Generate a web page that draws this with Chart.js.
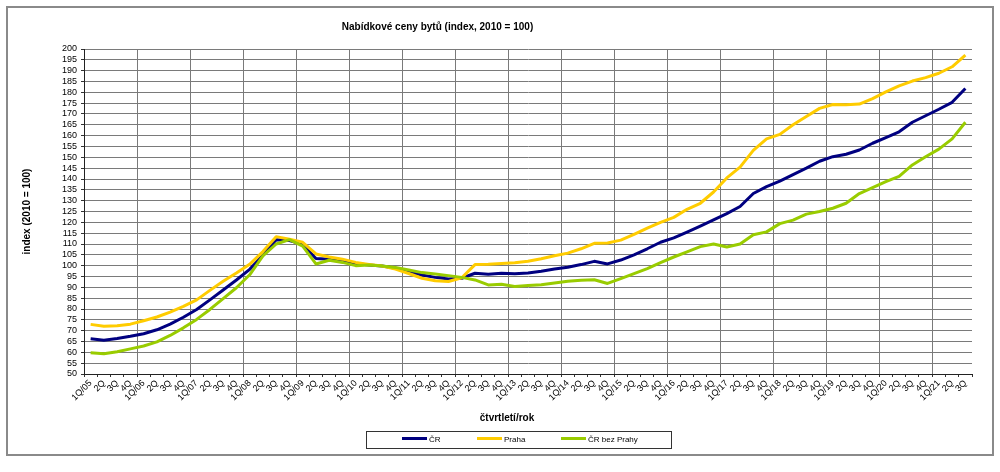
<!DOCTYPE html>
<html>
<head>
<meta charset="utf-8">
<title>Nabídkové ceny bytů</title>
<script src="https://cdn.jsdelivr.net/npm/chart.js@4.4.1/dist/chart.umd.min.js"></script>
<style>
  body { margin: 0; background: #fff; font-family: "Liberation Sans", Arial, sans-serif; }
  #wrap { position: relative; width: 1000px; height: 472px; }
  #wrap canvas { position: absolute; left: 0; top: 0; }
  #frame { position: absolute; left: 6px; top: 6px; width: 984px; height: 446px; border: 2px solid #8a8a8a; pointer-events: none; }
  .label { position: absolute; font-weight: bold; font-size: 10px; line-height: 12px; text-align: center; color: #000; white-space: nowrap; }
  #chart-title { left: 0; width: 875px; top: 21px; }
  #x-title { left: 407px; width: 200px; top: 412px; }
  #legend { position: absolute; left: 366px; top: 431px; width: 304px; height: 16px; border: 1px solid #333; }
  .leg-item { position: absolute; top: 0; height: 16px; font-size: 8px; line-height: 16px; color: #000; white-space: nowrap; }
  .leg-item span { display: inline-block; width: 25px; height: 3px; vertical-align: middle; margin-right: 2px; position: relative; top: -1px; }
</style>
</head>
<body>
<div id="wrap">
  <canvas id="chart" width="1000" height="472"></canvas>
  <div id="frame"></div>
  <div id="chart-title" class="label">Nabídkové ceny bytů (index, 2010 = 100)</div>
  <div id="x-title" class="label">čtvrtletí/rok</div>
  <div id="legend"></div>
</div>
<script>
const quarters = [
  "1Q/05", "2Q", "3Q", "4Q", "1Q/06", "2Q", "3Q", "4Q", "1Q/07", "2Q", "3Q", "4Q",
  "1Q/08", "2Q", "3Q", "4Q", "1Q/09", "2Q", "3Q", "4Q", "1Q/10", "2Q", "3Q", "4Q",
  "1Q/11", "2Q", "3Q", "4Q", "1Q/12", "2Q", "3Q", "4Q", "1Q/13", "2Q", "3Q", "4Q",
  "1Q/14", "2Q", "3Q", "4Q", "1Q/15", "2Q", "3Q", "4Q", "1Q/16", "2Q", "3Q", "4Q",
  "1Q/17", "2Q", "3Q", "4Q", "1Q/18", "2Q", "3Q", "4Q", "1Q/19", "2Q", "3Q", "4Q",
  "1Q/20", "2Q", "3Q", "4Q", "1Q/21", "2Q", "3Q"
];

const cr = [
  66.3, 65.6, 66.4, 67.4, 68.6, 70.4, 73.0, 76.2, 79.8, 84.2,
  88.8, 93.4, 98.3, 104.8, 112.0, 111.6, 109.8, 103.3, 103.0, 102.0,
  101.0, 100.3, 99.8, 98.8, 97.2, 95.7, 94.6, 93.8, 94.2, 96.5,
  96.0, 96.5, 96.3, 96.6, 97.4, 98.5, 99.3, 100.5, 102.0, 100.8,
  102.6, 105.0, 107.8, 110.8, 112.8, 115.5, 118.3, 121.1, 124.0, 127.3,
  133.3, 136.5, 139.0, 142.0, 145.0, 148.2, 150.3, 151.4, 153.4, 156.5,
  159.1, 161.8, 166.2, 169.2, 172.2, 175.4, 181.8
];

const praha = [
  72.9, 72.0, 72.3, 73.0, 74.6, 76.3, 78.6, 81.2, 84.2, 88.6,
  92.8, 96.6, 100.6, 106.5, 113.4, 112.2, 110.8, 105.4, 104.0, 103.0,
  101.5, 100.6, 99.8, 98.4, 96.4, 94.2, 93.0, 92.7, 94.4, 100.5,
  100.6, 101.0, 101.4, 102.0, 103.2, 104.6, 105.8, 107.8, 110.3, 110.5,
  111.8, 114.4, 117.3, 120.0, 122.3, 126.0, 128.8, 134.0, 140.5, 145.5,
  153.2, 158.5, 160.6, 165.0, 168.8, 172.6, 174.4, 174.3, 174.6, 177.1,
  180.2, 183.0, 185.2, 186.8, 188.8, 191.8, 197.2
];

const crBezPrahy = [
  59.8, 59.3, 60.3, 61.6, 62.9, 64.8, 67.8, 71.3, 75.2, 79.8,
  84.8, 89.8, 95.8, 104.5, 110.0, 112.0, 109.0, 100.8, 102.5, 101.5,
  100.0, 100.3, 99.8, 99.2, 98.0, 96.8, 96.2, 95.4, 94.6, 93.4,
  91.1, 91.4, 90.4, 90.8, 91.2, 92.0, 92.8, 93.3, 93.5, 91.8,
  94.0, 96.3, 98.6, 101.4, 104.0, 106.4, 108.8, 110.0, 108.6, 110.0,
  114.3, 115.6, 119.4, 121.0, 123.8, 125.0, 126.5, 128.8, 133.3, 136.0,
  138.8, 141.2, 146.5, 150.3, 153.8, 158.5, 166.2
];

const seriesNames = ["ČR", "Praha", "ČR bez Prahy"];
const yMin = 50, yMax = 200, yStep = 5;

const FONT = "'Liberation Sans', Arial, sans-serif";
const GRID = "#7a7a7a";
const colors = ["#000080", "#ffcc00", "#99cc00"];

// legend in html, positioned like the excel one
const legendPos = [35, 110, 194];
const legend = document.getElementById("legend");
seriesNames.forEach((name, i) => {
  const item = document.createElement("div");
  item.className = "leg-item";
  item.style.left = legendPos[i] + "px";
  item.innerHTML = `<span style="background:${colors[i]}"></span>${name}`;
  legend.appendChild(item);
});

new Chart(document.getElementById("chart").getContext("2d"), {
  type: "line",
  data: {
    labels: quarters,
    datasets: [cr, praha, crBezPrahy].map((d, i) => ({
      label: seriesNames[i],
      data: d,
      borderColor: colors[i],
      borderWidth: 3,
      pointRadius: 0,
      tension: 0,
      fill: false,
      borderJoinStyle: "round",
      order: 3 - i,
    })),
  },
  options: {
    responsive: false,
    animation: false,
    devicePixelRatio: 1,
    layout: { padding: { left: 0, top: 49, right: 28, bottom: 0 } },
    plugins: { legend: { display: false }, tooltip: { enabled: false } },
    scales: {
      x: {
        type: "category",
        offset: true,
        grid: {
          offset: true,
          color: (c) => (c.index % 4 === 0 || c.index === quarters.length ? GRID : "transparent"),
          tickColor: "#333",
          tickLength: 3,
        },
        border: { color: "#222" },
        ticks: {
          autoSkip: false,
          maxRotation: 45,
          minRotation: 45,
          padding: 1,
          color: "#000",
          font: { size: 9, family: FONT },
        },
        afterFit: (a) => { a.height = 98; },
      },
      y: {
        min: yMin,
        max: yMax,
        ticks: {
          stepSize: yStep,
          autoSkip: false,
          padding: 4,
          color: "#000",
          font: { size: 9, family: FONT, lineHeight: 1 },
        },
        grid: { color: GRID, tickColor: "#333", tickLength: 3 },
        border: { color: "#222" },
        title: {
          display: true,
          text: "index (2010 = 100)",
          color: "#000",
          font: { size: 10, weight: "bold", family: FONT },
          padding: { top: 21, bottom: 0 },
        },
        afterFit: (a) => { a.width = 84; },
      },
    },
  },
});
</script>
</body>
</html>
